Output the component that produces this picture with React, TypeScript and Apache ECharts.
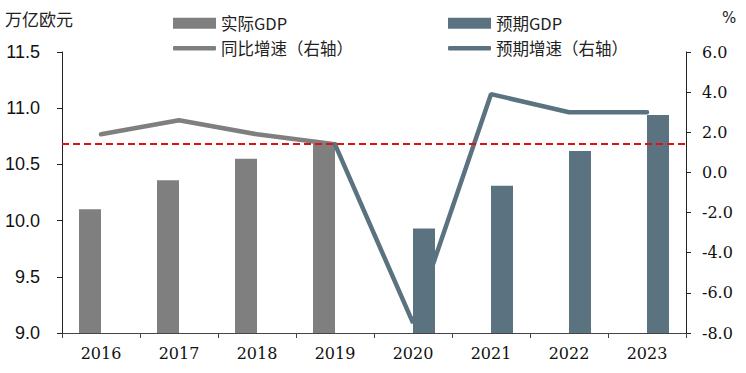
import React, { useEffect, useRef } from "react";
import * as echarts from "echarts";

const years = ["2016", "2017", "2018", "2019", "2020", "2021", "2022", "2023"];
const actualGdp = [10.1, 10.36, 10.55, 10.69, null, null, null, null];
const forecastGdp = [null, null, null, null, 9.93, 10.31, 10.62, 10.94];
const actualGrowth = [1.9, 2.6, 1.9, 1.4, null, null, null, null];
const forecastGrowth = [null, null, null, 1.4, -7.5, 3.9, 3.0, 3.0];
const refLevel = 10.68;

const GRAY = "#7f7f7f";
const BLUE = "#5b7381";
const CJK = "'Noto Sans CJK SC', 'Noto Sans', sans-serif";
const SERIF = "'DejaVu Serif', serif";

export default function App() {
  const ref = useRef<HTMLDivElement>(null);
  useEffect(() => {
    if (!ref.current) return;
    const chart = echarts.init(ref.current, undefined, { renderer: "svg" });
    const legendText = { fontFamily: CJK, fontSize: 16.5, color: "#222" };
    const barLegend = (left: number, name: string) => ({
      left,
      top: 10,
      itemWidth: 43,
      itemHeight: 11,
      textStyle: legendText,
      data: [{ name, icon: "rect" }],
    });
    const lineLegend = (left: number, name: string) => ({
      left,
      top: 35,
      itemWidth: 43,
      itemHeight: 4.5,
      textStyle: legendText,
      data: [{ name, icon: "roundRect" }],
    });
    chart.setOption({
      animation: false,
      backgroundColor: "#fff",
      grid: { left: 62, right: 60, top: 52, bottom: 40, containLabel: false },
      graphic: [
        {
          type: "text",
          left: 5,
          top: 10,
          style: { text: "万亿欧元", fontFamily: CJK, fontSize: 17, fill: "#222" },
        },
        {
          type: "text",
          left: 722,
          top: 10,
          style: { text: "%", fontFamily: "'DejaVu Sans', sans-serif", fontSize: 15, fill: "#222" },
        },
      ],
      legend: [
        barLegend(168, "实际GDP"),
        lineLegend(168, "同比增速（右轴）"),
        barLegend(443, "预期GDP"),
        lineLegend(443, "预期增速（右轴）"),
      ],
      xAxis: {
        type: "category",
        data: years,
        boundaryGap: true,
        axisLine: { onZero: false, lineStyle: { color: "#444", width: 1 } },
        axisTick: { show: true, alignWithLabel: false, length: 5, lineStyle: { color: "#444" } },
        axisLabel: { fontFamily: SERIF, fontSize: 16, color: "#111", margin: 12 },
        splitLine: { show: false },
      },
      yAxis: [
        {
          type: "value",
          min: 9,
          max: 11.5,
          interval: 0.5,
          axisLine: { show: true, lineStyle: { color: "#222", width: 1 } },
          axisTick: { show: true, length: 5, lineStyle: { color: "#222" } },
          axisLabel: {
            fontFamily: "'Liberation Sans', Arial, sans-serif",
            fontSize: 18,
            color: "#111",
            margin: 22,
            formatter: (v: number) => v.toFixed(1),
          },
          splitLine: { show: false },
        },
        {
          type: "value",
          min: -8,
          max: 6,
          interval: 2,
          position: "right",
          axisLine: { show: true, lineStyle: { color: "#222", width: 1 } },
          axisTick: { show: true, length: 5, lineStyle: { color: "#222" } },
          axisLabel: {
            fontFamily: SERIF,
            fontSize: 16,
            color: "#111",
            margin: 16,
            formatter: (v: number) => v.toFixed(1),
          },
          splitLine: { show: false },
        },
      ],
      series: [
        {
          name: "实际GDP",
          type: "bar",
          data: actualGdp,
          barWidth: 22,
          barGap: "0%",
          itemStyle: { color: GRAY },
          markLine: {
            silent: true,
            symbol: "none",
            label: { show: false },
            lineStyle: { color: "#e01010", type: [7, 4], width: 2 },
            data: [{ yAxis: refLevel }],
            z: 10,
          },
        },
        {
          name: "预期GDP",
          type: "bar",
          data: forecastGdp,
          barWidth: 22,
          barGap: "0%",
          itemStyle: { color: BLUE },
        },
        {
          name: "同比增速（右轴）",
          type: "line",
          yAxisIndex: 1,
          data: actualGrowth,
          symbol: "none",
          lineStyle: { color: GRAY, width: 4.5, cap: "round" },
          itemStyle: { color: GRAY },
          z: 3,
        },
        {
          name: "预期增速（右轴）",
          type: "line",
          yAxisIndex: 1,
          data: forecastGrowth,
          symbol: "none",
          lineStyle: { color: BLUE, width: 4.5, cap: "round" },
          itemStyle: { color: BLUE },
          z: 3,
        },
      ],
    });
    return () => chart.dispose();
  }, []);
  return (
    <div
      ref={ref}
      style={{ position: "fixed", left: 0, top: 0, width: 746, height: 373 }}
    />
  );
}
